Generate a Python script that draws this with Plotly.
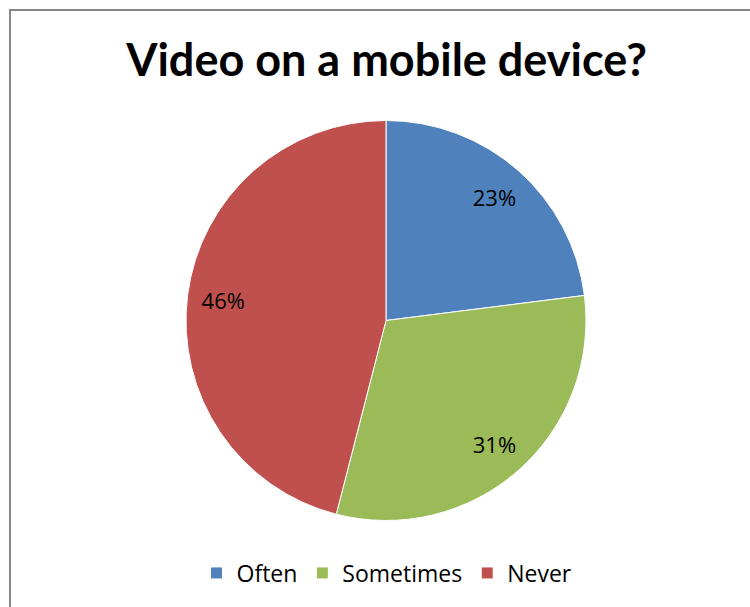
import plotly.graph_objects as go

# Survey answers: how often video is watched on a mobile device (percent)
categories = ["Often", "Sometimes", "Never"]
shares = [23, 31, 46]
slice_colors = ["#4F81BD", "#9BBB59", "#C0504D"]

W, H = 750, 607
pie_domain = dict(x=[186 / W, 586 / W], y=[1 - 520.5 / H, 1 - 120.5 / H])

fig = go.Figure()

# Filled slices (these also feed the legend)
fig.add_trace(
    go.Pie(
        labels=categories,
        values=shares,
        sort=False,
        direction="clockwise",
        rotation=0,
        marker=dict(colors=slice_colors, line=dict(color="#FFFFFF", width=1)),
        textinfo="none",
        domain=pie_domain,
        showlegend=True,
        hoverinfo="label+percent",
    )
)

# Transparent ring on top that carries the percentage labels toward the rim
fig.add_trace(
    go.Pie(
        labels=categories,
        values=shares,
        sort=False,
        direction="clockwise",
        rotation=0,
        hole=0.64,
        marker=dict(colors=["rgba(0,0,0,0)"] * len(categories), line=dict(width=0)),
        texttemplate="%{percent:.0%}",
        textposition="inside",
        insidetextorientation="horizontal",
        textfont=dict(family="Open Sans, sans-serif", size=22, color="#000000"),
        domain=pie_domain,
        showlegend=False,
        hoverinfo="skip",
    )
)

fig.update_layout(
    width=W,
    height=H,
    margin=dict(l=0, r=0, t=0, b=0),
    paper_bgcolor="#FFFFFF",
    plot_bgcolor="#FFFFFF",
    title=dict(
        text="<b>Video on a mobile device?</b>",
        x=386.5 / W,
        xanchor="center",
        y=1 - 60 / H,
        yanchor="middle",
        font=dict(family="Lato, sans-serif", size=45, color="#000000"),
    ),
    legend=dict(
        orientation="h",
        x=387 / W,
        xanchor="center",
        y=1 - 573 / H,
        yanchor="middle",
        font=dict(family="Open Sans, sans-serif", size=23, color="#000000"),
    ),
    shapes=[
        dict(
            type="rect",
            xref="paper",
            yref="paper",
            x0=10 / W,
            x1=1.2,
            y0=-0.2,
            y1=1 - 10 / H,
            line=dict(color="#868686", width=2),
            fillcolor="rgba(0,0,0,0)",
            layer="below",
        )
    ],
)

fig.write_html("out.html")
